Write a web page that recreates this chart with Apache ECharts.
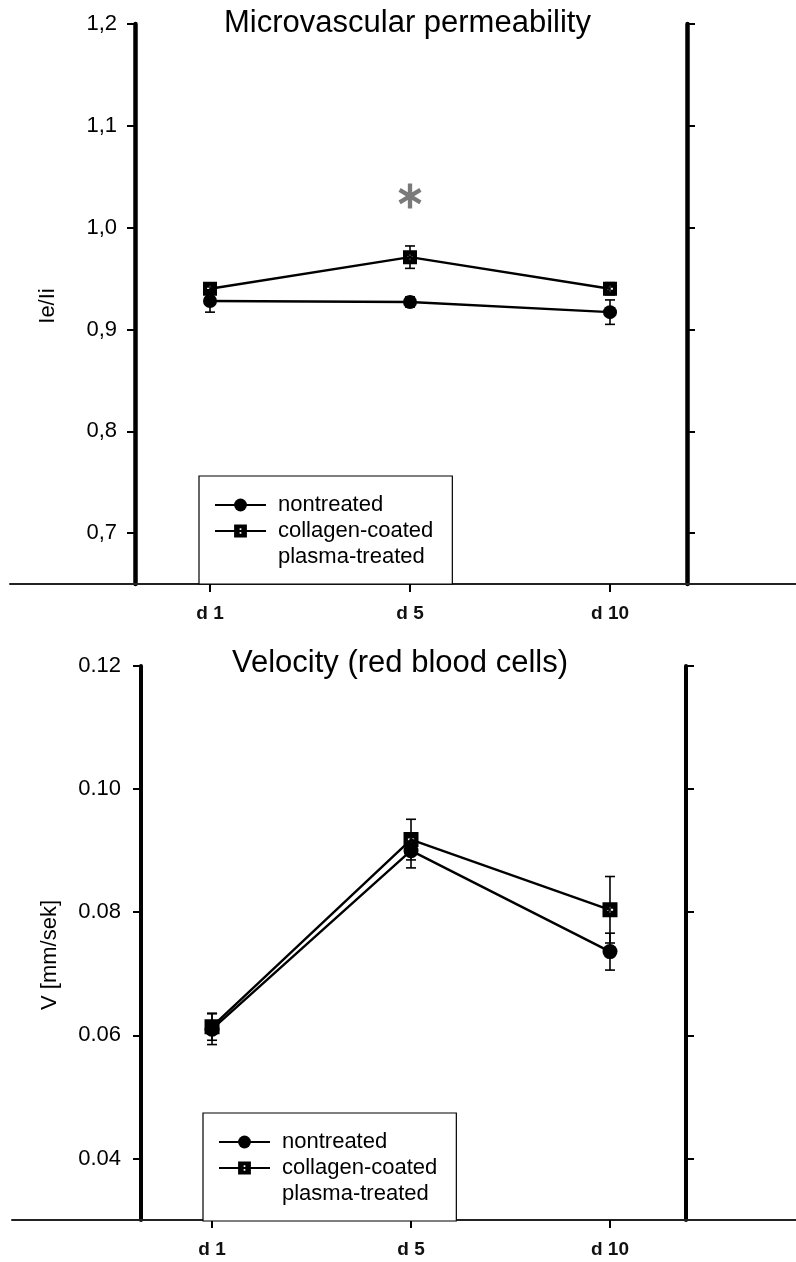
<!DOCTYPE html>
<html><head><meta charset="utf-8">
<script src="https://cdn.jsdelivr.net/npm/echarts@6/dist/echarts.min.js"></script>
<style>html,body{margin:0;padding:0;background:#fff}#c{width:796px;height:1262px}</style>
</head><body><div id="c"></div>
<script>
// ---- data ----
const categories = ['d 1', 'd 5', 'd 10'];
const xPositions = [1, 2, 3];

const permNontreated    = [0.928, 0.927, 0.917];
const permNontreatedErr = [0.011, 0.005, 0.012];
const permCollagen      = [0.940, 0.971, 0.940];
const permCollagenErr   = [0.005, 0.011, 0.006];
const permTicks = [0.7, 0.8, 0.9, 1.0, 1.1, 1.2];
const permAsterisk = [2, 1.031];

const velNontreated    = [0.0610, 0.0900, 0.0736];
const velNontreatedErr = [0.0025, 0.0028, 0.0030];
const velCollagen      = [0.0614, 0.0918, 0.0804];
const velCollagenErr   = [0.0022, 0.0033, 0.0054];
const velTicks = [0.04, 0.06, 0.08, 0.10, 0.12];

const seriesNames = ['nontreated', 'collagen-coated', 'plasma-treated'];

// ---- styling helpers ----
const FONT = "'Liberation Sans', Arial, sans-serif";
const squarePlus = 'path://M0,0L12,0L12,12L0,12Z M5.2,3.5L5.2,5.2L3.5,5.2L3.5,6.8L5.2,6.8L5.2,8.5L6.8,8.5L6.8,6.8L8.5,6.8L8.5,5.2L6.8,5.2L6.8,3.5Z';
const asteriskPath = 'path://M41,0L59,0L59,100L41,100Z M2.2,32.79L11.2,17.21L97.8,67.21L88.8,82.79Z M11.2,82.79L2.2,67.21L88.8,17.21L97.8,32.79Z';

const pairs = (vals) => vals.map((v, i) => [xPositions[i], v]);
const triples = (vals, errs) => vals.map((v, i) => [xPositions[i], v, errs[i]]);

function errorRender(params, api) {
  const x = api.value(0), y = api.value(1), e = api.value(2);
  const hi = api.coord([x, y + e]);
  const lo = api.coord([x, y - e]);
  const cw = 5;
  const st = { stroke: '#000', lineWidth: 1.6 };
  return {
    type: 'group',
    children: [
      { type: 'line', shape: { x1: hi[0], y1: hi[1], x2: lo[0], y2: lo[1] }, style: st },
      { type: 'line', shape: { x1: hi[0] - cw, y1: hi[1], x2: hi[0] + cw, y2: hi[1] }, style: st },
      { type: 'line', shape: { x1: lo[0] - cw, y1: lo[1], x2: lo[0] + cw, y2: lo[1] }, style: st }
    ]
  };
}

function xAxisFor(gridIndex, min, max) {
  return {
    type: 'value', gridIndex, min, max,
    axisLine: { show: false },
    splitLine: { show: false },
    axisTick: { show: true, customValues: xPositions, length: 8, lineStyle: { color: '#000', width: 2 } },
    axisLabel: {
      show: true, customValues: xPositions, margin: 20,
      formatter: (v) => categories[xPositions.indexOf(v)] || '',
      fontSize: 19, fontWeight: 'bold', color: '#111', fontFamily: FONT
    }
  };
}
function fullAxis(gridIndex) {
  return {
    type: 'value', gridIndex, min: 0, max: 1,
    axisLine: { show: true, lineStyle: { color: '#222', width: 2 } },
    axisTick: { show: false }, axisLabel: { show: false }, splitLine: { show: false }
  };
}
function yAxisFor(gridIndex, position, min, max, ticks, fmt, lineW, name, nameGap, margin, namePad) {
  return {
    type: 'value', gridIndex, position, min, max,
    name: name || '', nameLocation: 'middle', nameGap: nameGap || 0, nameRotate: 90,
    nameTextStyle: { fontSize: 22, color: '#000', fontFamily: FONT, padding: namePad || 0 },
    axisLine: { show: true, lineStyle: { color: '#000', width: lineW } },
    axisTick: { show: true, customValues: ticks, length: 8, lineStyle: { color: '#000', width: 2 } },
    axisLabel: {
      show: position === 'left', customValues: ticks, margin: margin, formatter: fmt,
      fontSize: 22, color: '#000', fontFamily: FONT
    },
    splitLine: { show: false }
  };
}
function legendFor(left, top) {
  return {
    left, top, orient: 'vertical', selectedMode: false,
    data: seriesNames,
    itemWidth: 51, itemHeight: 16, itemGap: 0,
    padding: [16, 19, 14, 15],
    borderColor: '#000', borderWidth: 1.2, backgroundColor: '#fff',
    textStyle: { fontSize: 22, lineHeight: 26, color: '#000', fontFamily: FONT, padding: [0, 0, 0, 7] }
  };
}
function lineSeries(name, data, xi, yi, symbol, size, extra) {
  return Object.assign({
    name, type: 'line', xAxisIndex: xi, yAxisIndex: yi, data,
    symbol, symbolSize: size, showAllSymbol: true,
    lineStyle: { color: '#000', width: 2.4 },
    itemStyle: { color: '#000' },
    z: 3, animation: false
  }, extra || {});
}
function errSeries(data, xi, yi) {
  return {
    type: 'custom', xAxisIndex: xi, yAxisIndex: yi, data, renderItem: errorRender,
    z: 2, silent: true, animation: false
  };
}

const commaFmt = (v) => v.toFixed(1).replace('.', ',');
const dotFmt = (v) => v.toFixed(2);

const option = {
  backgroundColor: '#fff',
  animation: false,
  textStyle: { fontFamily: FONT },
  title: [
    { text: 'Microvascular permeability', left: 224, top: 8, padding: 0,
      textStyle: { fontSize: 31, fontWeight: 'normal', color: '#000', fontFamily: FONT } },
    { text: 'Velocity (red blood cells)', left: 232, top: 648, padding: 0,
      textStyle: { fontSize: 31, fontWeight: 'normal', color: '#000', fontFamily: FONT } }
  ],
  grid: [
    { left: 135, width: 552, top: 24, height: 560 },
    { left: 10, right: 0, top: 24, height: 560 },
    { left: 141, width: 545, top: 666, height: 554 },
    { left: 12, right: 0, top: 666, height: 554 }
  ],
  xAxis: [
    xAxisFor(0, 0.625, 3.385),
    fullAxis(1),
    xAxisFor(2, 0.643, 3.382),
    fullAxis(3)
  ],
  yAxis: [
    yAxisFor(0, 'left', 0.65, 1.2, permTicks, commaFmt, 4.5, 'Ie/Ii', 76, 18, [0, 4, 0, 0]),
    yAxisFor(0, 'right', 0.65, 1.2, permTicks, commaFmt, 4.5),
    { type: 'value', gridIndex: 1, show: false, min: 0, max: 1 },
    yAxisFor(2, 'left', 0.03, 0.12, velTicks, dotFmt, 4, 'V [mm/sek]', 80, 20, [0, 24, 0, 0]),
    yAxisFor(2, 'right', 0.03, 0.12, velTicks, dotFmt, 4),
    { type: 'value', gridIndex: 3, show: false, min: 0, max: 1 }
  ],
  legend: [legendFor(199, 476), legendFor(203, 1113)],
  series: [
    errSeries(triples(permNontreated, permNontreatedErr), 0, 0),
    errSeries(triples(permCollagen, permCollagenErr), 0, 0),
    lineSeries(seriesNames[0], pairs(permNontreated), 0, 0, 'circle', 14),
    lineSeries(seriesNames[1], pairs(permCollagen), 0, 0, squarePlus, 14, {
      markPoint: {
        symbol: asteriskPath, symbolSize: [23, 25],
        itemStyle: { color: '#7a7a7a' }, label: { show: false },
        data: [{ coord: permAsterisk }]
      }
    }),
    lineSeries(seriesNames[2], [], 0, 0, 'none', 1, {
      lineStyle: { color: 'rgba(0,0,0,0)', width: 0 },
      itemStyle: { color: 'rgba(0,0,0,0)' }
    }),
    errSeries(triples(velNontreated, velNontreatedErr), 2, 3),
    errSeries(triples(velCollagen, velCollagenErr), 2, 3),
    lineSeries(seriesNames[0], pairs(velNontreated), 2, 3, 'circle', 15),
    lineSeries(seriesNames[1], pairs(velCollagen), 2, 3, squarePlus, 15)
  ]
};

const chart = echarts.init(document.getElementById('c'), null, { renderer: 'canvas' });
chart.setOption(option);
</script>
</body></html>
